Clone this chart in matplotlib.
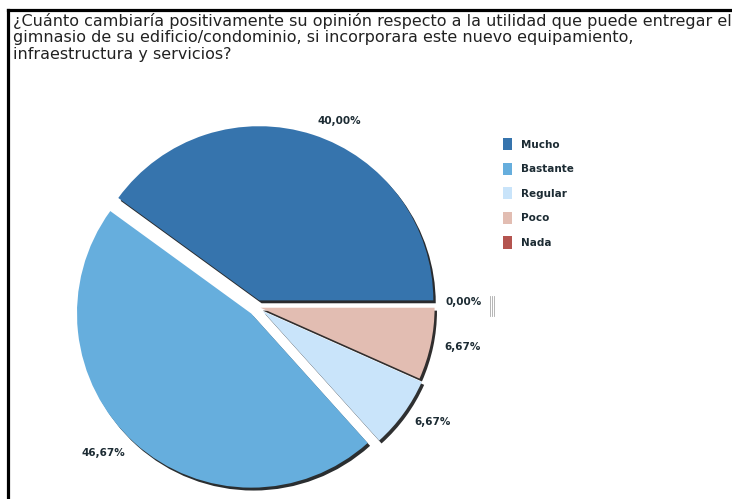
import matplotlib
matplotlib.use('Agg')
from matplotlib import pyplot as plt
from matplotlib.lines import Line2D

# datos de la encuesta
categorias = ['Mucho', 'Bastante', 'Regular', 'Poco', 'Nada']
porcentajes = [40.00, 46.67, 6.67, 6.67, 0.00]
colores = ['#3674ad', '#66aedd', '#c9e4fa', '#e2bdb2', '#b4544f']
titulo = ('¿Cuánto cambiaría positivamente su opinión respecto a la utilidad que puede entregar el\n'
          'gimnasio de su edificio/condominio, si incorporara este nuevo equipamiento,\n'
          'infraestructura y servicios?')

plt.rcParams['font.family'] = ['DejaVu Sans']

fig = plt.figure(figsize=(7.32, 4.99), dpi=100)
fig.patch.set_facecolor('white')

# marco negro (arriba e izquierda)
fig.add_artist(Line2D([8/732, 1], [1-10/499, 1-10/499], color='black', lw=2.3,
                      transform=fig.transFigure))
fig.add_artist(Line2D([8/732, 8/732], [0, 1-10/499], color='black', lw=2.3,
                      transform=fig.transFigure))

fig.text(13/732, 1-13/499, titulo, ha='left', va='top', fontsize=11.5,
         color='#222222', linespacing=1.12)

# torta
ax = fig.add_axes([48/732, -17/499, 418/732, 418/499])
etiquetas = ['%.2f%%' % v for v in porcentajes]
etiquetas = [e.replace('.', ',') for e in etiquetas]
wedges, textos = ax.pie(porcentajes, labels=etiquetas, colors=colores,
                        startangle=0, counterclock=True,
                        explode=[0.04, 0.05, 0.04, 0.02, 0.0],
                        labeldistance=1.08,
                        shadow={'ox': 0.01, 'oy': -0.012, 'shade': 0.95, 'alpha': 0.85},
                        wedgeprops={'linewidth': 0},
                        textprops={'fontsize': 7.5, 'fontweight': 'bold', 'color': '#1c2b33'})
# la etiqueta de 0% queda sobre la linea horizontal
textos[4].set_verticalalignment('bottom')
ax.set_xlim(-1.2, 1.2)
ax.set_ylim(-1.2, 1.2)
ax.set_aspect('equal')
ax.axis('off')

# leyenda
fig.legend(wedges, categorias, loc='upper left', bbox_to_anchor=(494/732, 1-129/499),
           frameon=False, handlelength=0.8, handleheight=1.4, handletextpad=0.9,
           labelspacing=1.2, prop={'size': 7.5, 'weight': 'bold'}, labelcolor='#1c2b33')

# marca gris a la derecha
for x in [490, 492, 494]:
    fig.add_artist(Line2D([x/732, x/732], [1-296/499, 1-316/499], color='#aaaaaa',
                          lw=0.6, transform=fig.transFigure))

plt.savefig('out.png', dpi=100)
